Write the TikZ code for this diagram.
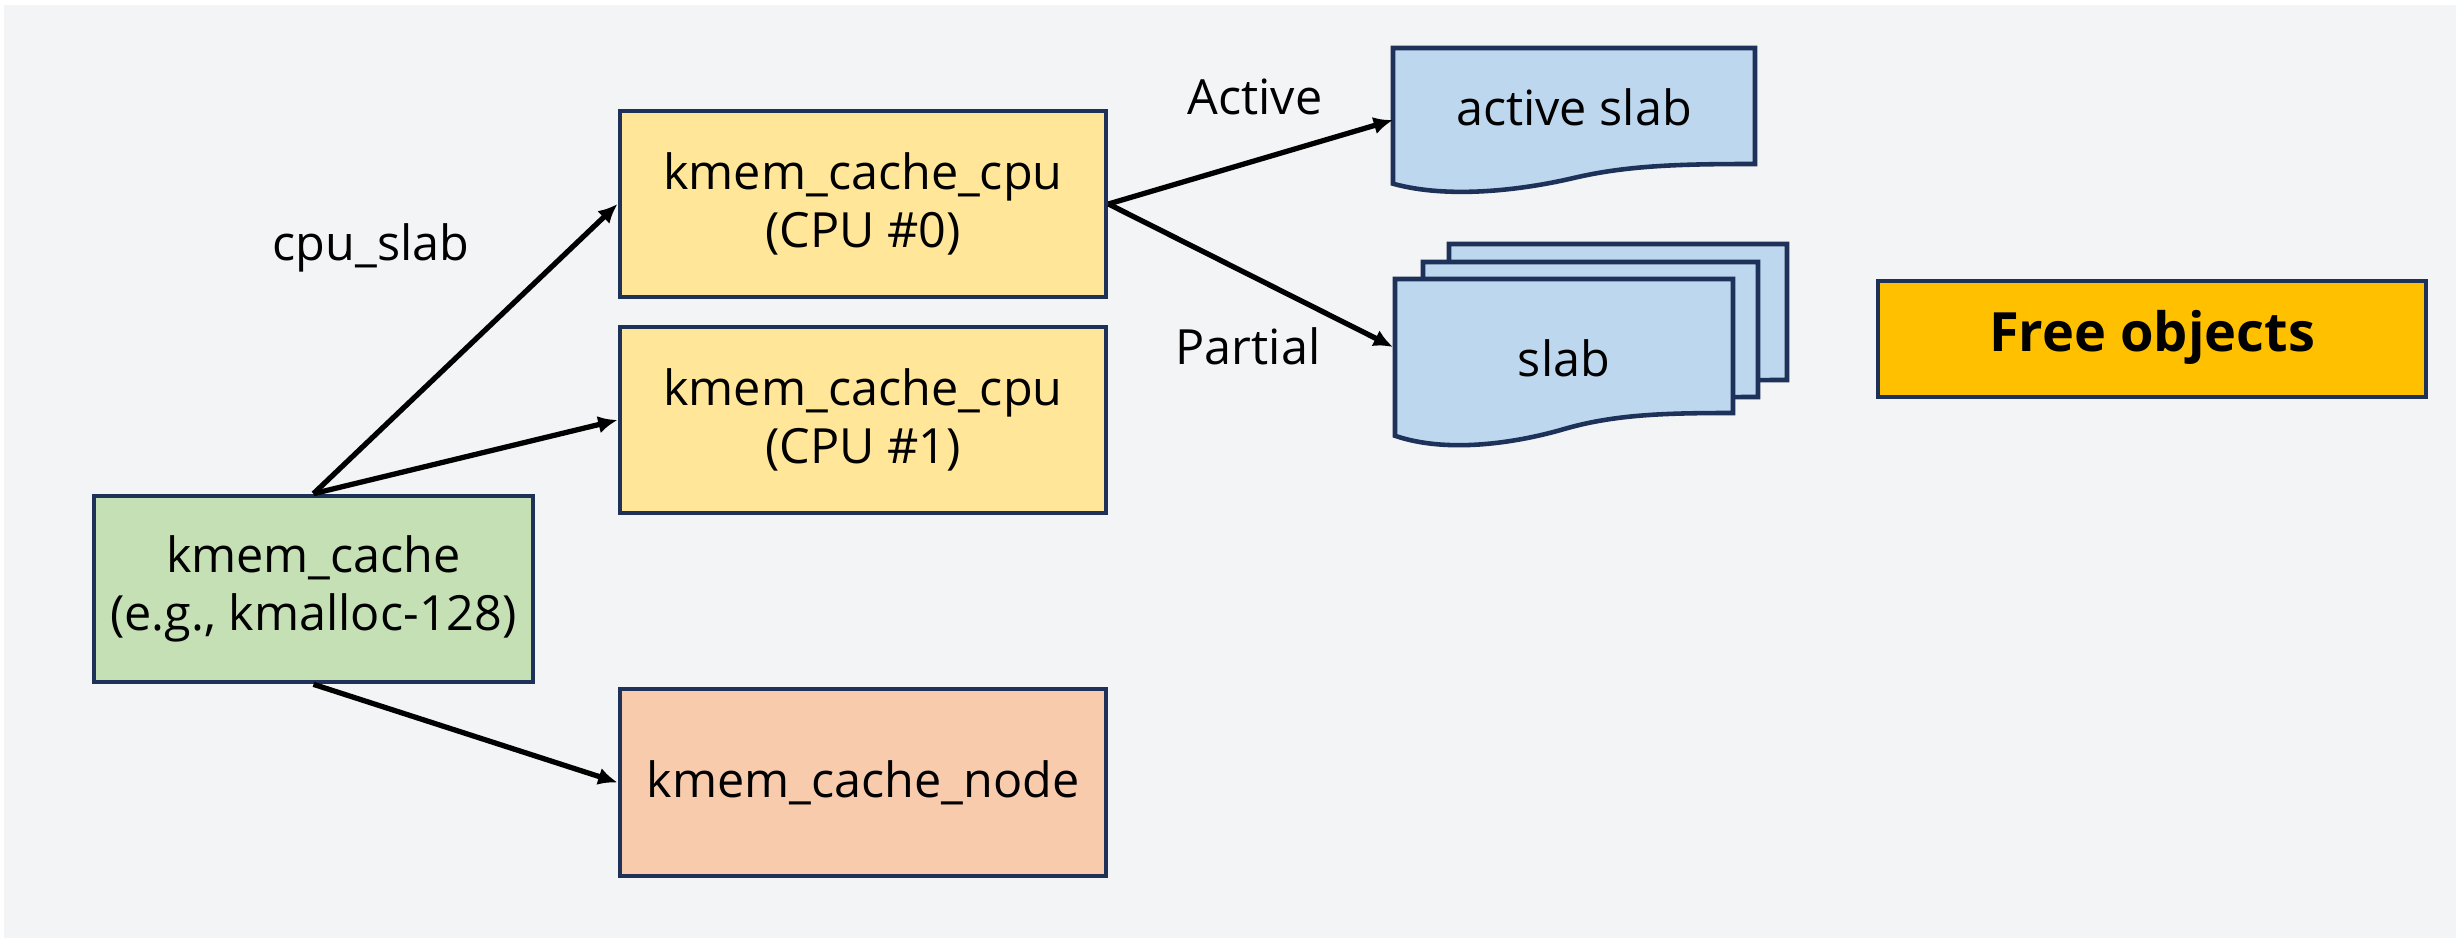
\documentclass[tikz,border=0pt]{standalone}
\usepackage{fontspec}
\setmainfont{Open Sans}
\usetikzlibrary{arrows.meta}

\definecolor{fondo}{HTML}{F3F4F6}
\definecolor{borde}{HTML}{1D3159}
\definecolor{verde}{HTML}{C5E0B4}
\definecolor{amarillo}{HTML}{FFE699}
\definecolor{naranja}{HTML}{F8CBAD}
\definecolor{azul}{HTML}{BDD7EE}
\definecolor{oro}{HTML}{FFC000}

\begin{document}
\begin{tikzpicture}[x=0.01cm, y=-0.01cm, >={Latex[length=5.5pt,width=5pt]}, line width=1.5pt,
  caja/.style={draw=borde, line width=1.3pt, align=center, inner sep=0pt,
    font=\fontsize{13.8}{16.5}\selectfont},
  etiqueta/.style={font=\fontsize{13.8}{16.5}\selectfont},
  hoja/.pic={\draw[borde, fill=azul, line width=1.3pt] (0,0) -- (1,0) -- (1,1)
    .. controls (0.8,1) and (0.65,1.01) .. (0.5,1.12)
    .. controls (0.35,1.23) and (0.15,1.30) .. (0,1.17) -- cycle;}]
  % Fondo
  \useasboundingbox (0,0) rectangle (2460,943);
  \fill[fondo] (4,5) rectangle (2456,938);
  % Estructuras
  \node[caja, fill=verde, minimum width=4.39cm, minimum height=1.86cm] (cache) at (313.5,589)
    {kmem\_cache\\(e.g., kmalloc-128)};
  \node[caja, fill=amarillo, minimum width=4.86cm, minimum height=1.86cm] (cpu0) at (863,204)
    {kmem\_cache\_cpu\\(CPU \#0)};
  \node[caja, fill=amarillo, minimum width=4.86cm, minimum height=1.86cm] (cpu1) at (863,420)
    {kmem\_cache\_cpu\\(CPU \#1)};
  \node[caja, fill=naranja, minimum width=4.86cm, minimum height=1.87cm] (knode) at (863,782.5)
    {kmem\_cache\_node};
  \node[caja, fill=oro, minimum width=5.48cm, minimum height=1.16cm,
    font=\fontsize{15.4}{18}\selectfont\bfseries] (libres) at (2152,339) {Free objects\strut};
  % Slabs
  \pic[xscale=362, yscale=116] at (1393,48) {hoja};
  \pic[xscale=338, yscale=136] at (1449,244) {hoja};
  \pic[xscale=335, yscale=135] at (1423,262) {hoja};
  \pic[xscale=338, yscale=134] at (1395,279) {hoja};
  \node[etiqueta] (activa) at (1574,107) {active slab};
  \node[etiqueta] (slab) at (1564,358) {slab};
  \coordinate (entactiva) at (1393,120);
  \coordinate (entslab) at (1393,347);
  % Flechas
  \draw[->] (cache.north) -- (cpu0.west);
  \draw[->] (cache.north) -- (cpu1.west);
  \draw[->] (cache.south) -- (knode.west);
  \draw[->] (cpu0.east) -- (entactiva);
  \draw[->] (cpu0.east) -- (entslab);
  % Etiquetas
  \node[etiqueta] (lcpu) at (371,248) {cpu\_slab};
  \node[etiqueta] (lact) at (1255,97) {Active};
  \node[etiqueta] (lpar) at (1248,346) {Partial};
\end{tikzpicture}
\end{document}
